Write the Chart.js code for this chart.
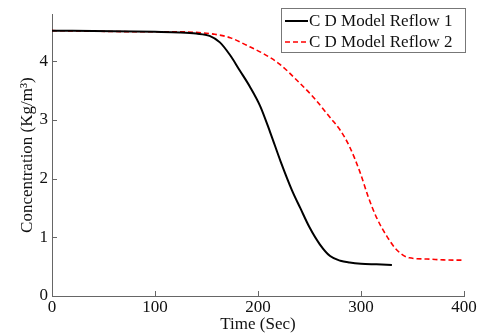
<!DOCTYPE html>
<html>
<head>
<meta charset="utf-8">
<script src="https://cdn.jsdelivr.net/npm/chart.js@4.4.0/dist/chart.umd.min.js"></script>
<style>
  html, body { margin: 0; padding: 0; background: #fff; }
  #wrap { width: 484px; height: 336px; }
</style>
</head>
<body>
<div id="wrap"><canvas id="concChart"></canvas></div>
<script>
// data
const seriesNames = ['C D Model Reflow 1', 'C D Model Reflow 2'];

const time1 = [0, 60, 100, 124, 140, 153, 163, 173, 182, 192, 202, 212, 222, 233, 241, 250, 260, 270, 280, 289, 300, 315, 330];
const conc1 = [4.52, 4.51, 4.50, 4.49, 4.47, 4.43, 4.32, 4.10, 3.85, 3.57, 3.24, 2.78, 2.29, 1.80, 1.50, 1.17, 0.88, 0.68, 0.60, 0.57, 0.55, 0.54, 0.53];

const time2 = [0, 100, 124, 140, 157, 173, 189, 205, 221, 238, 254, 270, 280, 289, 299, 307, 315, 325, 335, 347, 364, 380, 399];
const conc2 = [4.52, 4.50, 4.50, 4.49, 4.46, 4.40, 4.27, 4.13, 3.95, 3.67, 3.38, 3.04, 2.82, 2.54, 2.11, 1.69, 1.34, 1.02, 0.78, 0.65, 0.63, 0.615, 0.61];

const xTicks = [0, 100, 200, 300, 400];
const yTicks = [0, 1, 2, 3, 4];

const FONT = 'Liberation Serif, Times New Roman, serif';

function toPoints(xs, ys) {
  return xs.map((x, i) => ({ x: x, y: ys[i] }));
}

// inward tick marks like the original plot
const innerTicks = {
  id: 'innerTicks',
  afterDraw(chart) {
    const ctx = chart.ctx;
    const xs = chart.scales.x, ys = chart.scales.y;
    const area = chart.chartArea;
    ctx.save();
    ctx.strokeStyle = '#666';
    ctx.lineWidth = 1;
    xTicks.forEach(v => {
      const px = Math.round(xs.getPixelForValue(v)) + 0.5;
      ctx.beginPath();
      ctx.moveTo(px, area.bottom);
      ctx.lineTo(px, area.bottom - 5);
      ctx.stroke();
    });
    yTicks.forEach(v => {
      const py = Math.round(ys.getPixelForValue(v)) + 0.5;
      ctx.beginPath();
      ctx.moveTo(area.left, py);
      ctx.lineTo(area.left + 5, py);
      ctx.stroke();
    });
    ctx.restore();
  }
};

// boxed legend in the top right corner
const boxLegend = {
  id: 'boxLegend',
  afterDraw(chart) {
    const ctx = chart.ctx;
    const left = 281, top = 8, w = 184, h = 44;
    ctx.save();
    ctx.fillStyle = '#fff';
    ctx.fillRect(left, top, w, h);
    ctx.strokeStyle = '#777';
    ctx.lineWidth = 1;
    ctx.strokeRect(left + 0.5, top + 0.5, w, h);
    ctx.font = '17px ' + FONT;
    ctx.textBaseline = 'middle';
    ctx.fillStyle = '#111';
    chart.data.datasets.forEach((ds, i) => {
      const y = top + 13 + i * 21;
      ctx.strokeStyle = ds.borderColor;
      ctx.lineWidth = ds.borderWidth;
      ctx.setLineDash(ds.borderDash || []);
      ctx.beginPath();
      ctx.moveTo(left + 4, y);
      ctx.lineTo(left + 27, y);
      ctx.stroke();
      ctx.setLineDash([]);
      ctx.fillText(ds.label, left + 28, y + 1);
    });
    ctx.restore();
  }
};

const ctx = document.getElementById('concChart').getContext('2d');
const concChart = new Chart(ctx, {
  type: 'line',
  data: {
    datasets: [{
      label: seriesNames[0],
      data: toPoints(time1, conc1),
      borderColor: '#000',
      borderWidth: 2,
      pointRadius: 0,
      cubicInterpolationMode: 'monotone',
      fill: false
    }, {
      label: seriesNames[1],
      data: toPoints(time2, conc2),
      borderColor: '#ff0000',
      borderWidth: 1.6,
      borderDash: [5, 3],
      pointRadius: 0,
      cubicInterpolationMode: 'monotone',
      fill: false
    }]
  },
  options: {
    responsive: true,
    maintainAspectRatio: false,
    animation: false,
    layout: { padding: { top: 8, right: 20, left: 0, bottom: 0 } },
    plugins: {
      legend: { display: false },
      tooltip: { enabled: false }
    },
    scales: {
      x: {
        type: 'linear',
        min: 0,
        max: 400,
        afterFit(scale) { scale.height = 40; },
        afterBuildTicks(scale) { scale.ticks = xTicks.map(v => ({ value: v })); },
        grid: { drawOnChartArea: false, drawTicks: false },
        border: { color: '#666', width: 1 },
        ticks: { color: '#111', padding: 1, maxRotation: 0, font: { family: FONT, size: 17 } },
        title: {
          display: true,
          text: 'Time (Sec)',
          color: '#111',
          padding: { top: 0, bottom: 1 },
          font: { family: FONT, size: 17 }
        }
      },
      y: {
        min: 0,
        max: 4.8,
        afterFit(scale) { scale.width = 52; },
        afterBuildTicks(scale) { scale.ticks = yTicks.map(v => ({ value: v })); },
        grid: { drawOnChartArea: false, drawTicks: false },
        border: { color: '#666', width: 1 },
        ticks: { color: '#111', padding: 4, font: { family: FONT, size: 17 } },
        title: {
          display: true,
          text: 'Concentration (Kg/m³)',
          color: '#111',
          padding: { top: 17, bottom: 0 },
          font: { family: FONT, size: 17 }
        }
      }
    }
  },
  plugins: [innerTicks, boxLegend]
});
</script>
</body>
</html>
